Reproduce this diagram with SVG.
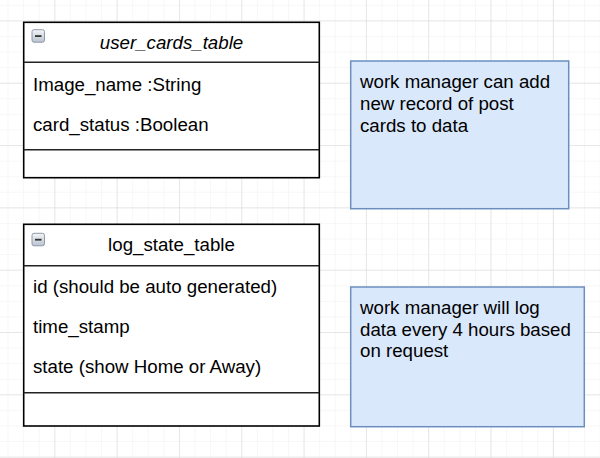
<svg xmlns="http://www.w3.org/2000/svg" width="600" height="458" viewBox="0 0 600 458">
<defs>
<pattern id="minor" patternUnits="userSpaceOnUse" x="7.56" y="4.82" width="15.58" height="15.58">
<path d="M0 0V15.58M0 0H15.58" stroke="#efefef" stroke-width="1" fill="none"/>
</pattern>
<pattern id="major" patternUnits="userSpaceOnUse" x="54.3" y="20.4" width="62.32" height="62.32">
<path d="M0 0V62.32M0 0H62.32" stroke="#d6d6d6" stroke-width="1" fill="none"/>
</pattern>
<linearGradient id="ig" x1="0" y1="0" x2="0" y2="1">
<stop offset="0" stop-color="#f4f6f9"/>
<stop offset="1" stop-color="#b9c2cf"/>
</linearGradient>
<g id="minus">
<rect x="0" y="0" width="12.5" height="12.5" rx="2" fill="url(#ig)" stroke="#8e9aa9" stroke-width="1"/>
<rect x="3" y="5.5" width="6.5" height="1.8" fill="#333"/>
</g>
</defs>
<style>
.t{font-family:"Liberation Sans",Arial,Helvetica,sans-serif;font-size:18.7px;fill:#000}
.tbl{fill:#fff;stroke:#000;stroke-width:1.6}
.ln{stroke:#222;stroke-width:1.4}
.note{fill:#dae8fc;stroke:#6c8ebf;stroke-width:1.5}
</style>
<rect width="600" height="458" fill="#fff"/>
<rect width="600" height="458" fill="url(#minor)"/>
<rect width="600" height="458" fill="url(#major)"/>
<g id="connectors"/>
<g id="user_cards_table">
<rect class="tbl" x="23.7" y="22.3" width="295.6" height="155.4"/>
<line class="ln" x1="23.7" y1="62.3" x2="319.3" y2="62.3"/>
<line class="ln" x1="23.7" y1="149.7" x2="319.3" y2="149.7"/>
<use href="#minus" x="32" y="29.7"/>
<text class="t" x="171.5" y="49.3" text-anchor="middle" font-style="italic">user_cards_table</text>
<text class="t" x="33" y="90.5">Image_name :String</text>
<text class="t" x="33" y="130.5">card_status :Boolean</text>
</g>
<g id="log_state_table">
<rect class="tbl" x="23.7" y="224.3" width="295.6" height="201.7"/>
<line class="ln" x1="23.7" y1="265.7" x2="319.3" y2="265.7"/>
<line class="ln" x1="23.7" y1="392.7" x2="319.3" y2="392.7"/>
<use href="#minus" x="32" y="233.3"/>
<text class="t" x="171.5" y="251.3" text-anchor="middle">log_state_table</text>
<text class="t" x="33" y="293.3">id (should be auto generated)</text>
<text class="t" x="33" y="333.3">time_stamp</text>
<text class="t" x="33" y="373.3">state (show Home or Away)</text>
</g>
<g id="note1">
<rect class="note" x="350.7" y="61" width="218" height="147.7"/>
<text class="t" x="360" y="88.3">work manager can add</text>
<text class="t" x="360" y="110">new record of post</text>
<text class="t" x="360" y="131.7">cards to data</text>
</g>
<g id="note2">
<rect class="note" x="350.7" y="287" width="233.6" height="139.7"/>
<text class="t" x="360" y="314.3">work manager will log</text>
<text class="t" x="360" y="336">data every 4 hours based</text>
<text class="t" x="360" y="356.7">on request</text>
</g>
</svg>
